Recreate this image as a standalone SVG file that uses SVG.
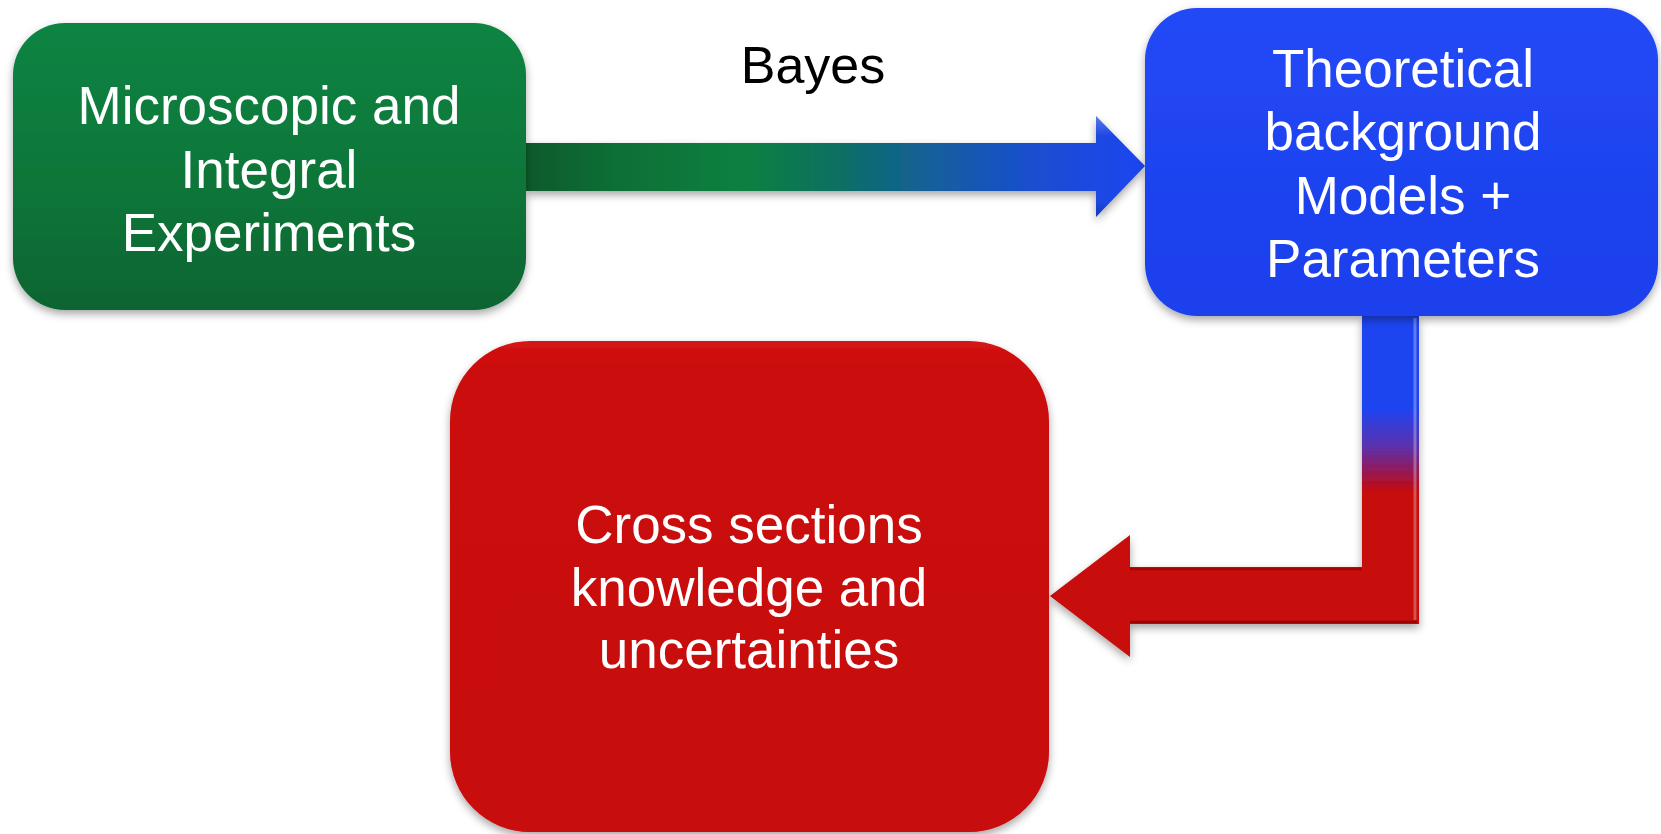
<svg xmlns="http://www.w3.org/2000/svg" width="1661" height="834" viewBox="0 0 1661 834">
  <style>
    .lbl { font-family: "Liberation Sans", Arial, sans-serif; font-size: 53px; text-anchor: middle; fill: #ffffff; }
    .edge-lbl { font-family: "Liberation Sans", Arial, sans-serif; font-size: 52px; text-anchor: middle; fill: #000000; }
    .box { filter: url(#shadow); }
  </style>
  <defs>
    <filter id="shadow" x="-10%" y="-10%" width="120%" height="125%">
      <feDropShadow dx="0" dy="4" stdDeviation="4" flood-color="#000" flood-opacity="0.35"/>
    </filter>
    <linearGradient id="gGreen" x1="0" y1="0" x2="0" y2="1">
      <stop offset="0" stop-color="#0b8443"/>
      <stop offset="0.6" stop-color="#087538"/>
      <stop offset="1" stop-color="#076432"/>
    </linearGradient>
    <linearGradient id="gBlue" x1="0" y1="0" x2="0" y2="1">
      <stop offset="0" stop-color="#2248f6"/>
      <stop offset="1" stop-color="#1c40ec"/>
    </linearGradient>
    <linearGradient id="gRed" x1="0" y1="0" x2="0" y2="1">
      <stop offset="0" stop-color="#d41414"/>
      <stop offset="0.06" stop-color="#cb0909"/>
      <stop offset="1" stop-color="#c70707"/>
    </linearGradient>
    <linearGradient id="gArrow1" gradientUnits="userSpaceOnUse" x1="526" y1="0" x2="1145" y2="0">
      <stop offset="0" stop-color="#075a2c"/>
      <stop offset="0.15" stop-color="#077035"/>
      <stop offset="0.35" stop-color="#088040"/>
      <stop offset="0.5" stop-color="#0b7060"/>
      <stop offset="0.65" stop-color="#145f9a"/>
      <stop offset="0.82" stop-color="#1a4ed0"/>
      <stop offset="1" stop-color="#1e44f0"/>
    </linearGradient>
    <linearGradient id="gArrow2" gradientUnits="userSpaceOnUse" x1="0" y1="316" x2="0" y2="624">
      <stop offset="0" stop-color="#1e44f0"/>
      <stop offset="0.3" stop-color="#1e44f0"/>
      <stop offset="0.42" stop-color="#5a32b0"/>
      <stop offset="0.5" stop-color="#921a5c"/>
      <stop offset="0.575" stop-color="#c80808"/>
      <stop offset="1" stop-color="#c80808"/>
    </linearGradient>
    <linearGradient id="gShine" x1="0" y1="0" x2="0" y2="1">
      <stop offset="0" stop-color="#ffffff" stop-opacity="0.28"/>
      <stop offset="0.2" stop-color="#ffffff" stop-opacity="0"/>
      <stop offset="0.85" stop-color="#000000" stop-opacity="0"/>
      <stop offset="1" stop-color="#000000" stop-opacity="0.22"/>
    </linearGradient>
  </defs>

  <g id="connectors">
    <g id="edge-experiments-theory" class="box">
      <polygon points="526,143 1096,143 1096,116 1145,166 1096,217 1096,191 526,191" fill="url(#gArrow1)"/>
      <polygon points="526,143 1096,143 1096,116 1145,166 1096,217 1096,191 526,191" fill="url(#gShine)"/>
    </g>
    <g id="edge-theory-crosssections" class="box">
      <polygon points="1362,316 1362,567 1130,567 1130,535 1050,596 1130,657 1130,624 1419,624 1419,316" fill="url(#gArrow2)"/>
      <line x1="1415" y1="318" x2="1415" y2="620" stroke="#ffffff" stroke-opacity="0.3" stroke-width="3"/>
      <line x1="1130" y1="569" x2="1362" y2="569" stroke="#000000" stroke-opacity="0.15" stroke-width="3"/>
      <line x1="1130" y1="622" x2="1417" y2="622" stroke="#000000" stroke-opacity="0.2" stroke-width="3"/>
    </g>
    <text class="edge-lbl" x="813" y="83">Bayes</text>
  </g>

  <g id="node-experiments">
    <rect class="box" x="13" y="23" width="513" height="287" rx="52" ry="52" fill="url(#gGreen)"/>
    <text class="lbl" x="269" y="124">Microscopic and</text>
    <text class="lbl" x="269" y="188">Integral</text>
    <text class="lbl" x="269" y="251">Experiments</text>
  </g>

  <g id="node-theory">
    <rect class="box" x="1145" y="8" width="513" height="308" rx="52" ry="52" fill="url(#gBlue)"/>
    <text class="lbl" x="1403" y="87">Theoretical</text>
    <text class="lbl" x="1403" y="150">background</text>
    <text class="lbl" x="1403" y="214">Models +</text>
    <text class="lbl" x="1403" y="277">Parameters</text>
  </g>

  <g id="node-cross-sections">
    <rect class="box" x="450" y="341" width="599" height="491" rx="80" ry="80" fill="url(#gRed)"/>
    <text class="lbl" x="749" y="543">Cross sections</text>
    <text class="lbl" x="749" y="606">knowledge and</text>
    <text class="lbl" x="749" y="668">uncertainties</text>
  </g>
</svg>
